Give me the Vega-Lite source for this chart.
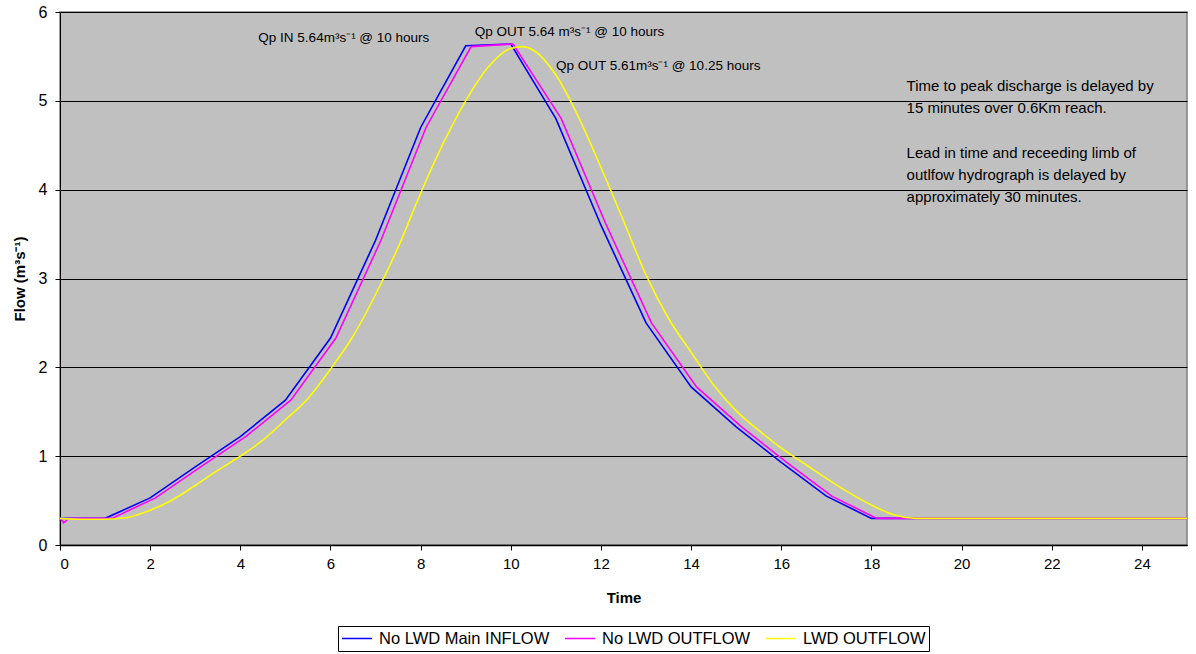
{
  "$schema": "https://vega.github.io/schema/vega-lite/v6.json",
  "width": 1127,
  "height": 533,
  "autosize": {"type": "none"},
  "padding": {"left": 60, "top": 12, "right": 9, "bottom": 109},
  "background": "white",
  "config": {
    "font": "Liberation Sans",
    "view": {"fill": "#C0C0C0", "stroke": "#808080", "strokeWidth": 1.5}
  },
  "datasets": {
    "flows": [
      {"series": "No LWD Main INFLOW", "time": 0, "flow": 0.3},
      {"series": "No LWD Main INFLOW", "time": 1, "flow": 0.3},
      {"series": "No LWD Main INFLOW", "time": 2, "flow": 0.53},
      {"series": "No LWD Main INFLOW", "time": 3, "flow": 0.88},
      {"series": "No LWD Main INFLOW", "time": 4, "flow": 1.22},
      {"series": "No LWD Main INFLOW", "time": 5, "flow": 1.63},
      {"series": "No LWD Main INFLOW", "time": 6, "flow": 2.33},
      {"series": "No LWD Main INFLOW", "time": 7, "flow": 3.43},
      {"series": "No LWD Main INFLOW", "time": 8, "flow": 4.7},
      {"series": "No LWD Main INFLOW", "time": 9, "flow": 5.62},
      {"series": "No LWD Main INFLOW", "time": 10, "flow": 5.64},
      {"series": "No LWD Main INFLOW", "time": 11, "flow": 4.8},
      {"series": "No LWD Main INFLOW", "time": 12, "flow": 3.6},
      {"series": "No LWD Main INFLOW", "time": 13, "flow": 2.5},
      {"series": "No LWD Main INFLOW", "time": 14, "flow": 1.78},
      {"series": "No LWD Main INFLOW", "time": 15, "flow": 1.33},
      {"series": "No LWD Main INFLOW", "time": 16, "flow": 0.93},
      {"series": "No LWD Main INFLOW", "time": 17, "flow": 0.55},
      {"series": "No LWD Main INFLOW", "time": 18, "flow": 0.3},
      {"series": "No LWD Main INFLOW", "time": 19, "flow": 0.3},
      {"series": "No LWD Main INFLOW", "time": 25, "flow": 0.3},
      {"series": "No LWD OUTFLOW", "time": 0, "flow": 0.3},
      {"series": "No LWD OUTFLOW", "time": 0.08, "flow": 0.25},
      {"series": "No LWD OUTFLOW", "time": 0.2, "flow": 0.3},
      {"series": "No LWD OUTFLOW", "time": 1.15, "flow": 0.3},
      {"series": "No LWD OUTFLOW", "time": 2.12, "flow": 0.53},
      {"series": "No LWD OUTFLOW", "time": 3.12, "flow": 0.88},
      {"series": "No LWD OUTFLOW", "time": 4.12, "flow": 1.22},
      {"series": "No LWD OUTFLOW", "time": 5.12, "flow": 1.63},
      {"series": "No LWD OUTFLOW", "time": 6.12, "flow": 2.33},
      {"series": "No LWD OUTFLOW", "time": 7.12, "flow": 3.43},
      {"series": "No LWD OUTFLOW", "time": 8.12, "flow": 4.7},
      {"series": "No LWD OUTFLOW", "time": 9.12, "flow": 5.61},
      {"series": "No LWD OUTFLOW", "time": 10.05, "flow": 5.64},
      {"series": "No LWD OUTFLOW", "time": 11.12, "flow": 4.8},
      {"series": "No LWD OUTFLOW", "time": 12.12, "flow": 3.6},
      {"series": "No LWD OUTFLOW", "time": 13.12, "flow": 2.5},
      {"series": "No LWD OUTFLOW", "time": 14.12, "flow": 1.78},
      {"series": "No LWD OUTFLOW", "time": 15.12, "flow": 1.33},
      {"series": "No LWD OUTFLOW", "time": 16.12, "flow": 0.93},
      {"series": "No LWD OUTFLOW", "time": 17.12, "flow": 0.55},
      {"series": "No LWD OUTFLOW", "time": 18.12, "flow": 0.3},
      {"series": "No LWD OUTFLOW", "time": 25, "flow": 0.3},
      {"series": "LWD OUTFLOW", "time": 0, "flow": 0.3},
      {"series": "LWD OUTFLOW", "time": 0.5, "flow": 0.29},
      {"series": "LWD OUTFLOW", "time": 1, "flow": 0.29},
      {"series": "LWD OUTFLOW", "time": 1.5, "flow": 0.31},
      {"series": "LWD OUTFLOW", "time": 2, "flow": 0.39},
      {"series": "LWD OUTFLOW", "time": 2.5, "flow": 0.51},
      {"series": "LWD OUTFLOW", "time": 3, "flow": 0.67},
      {"series": "LWD OUTFLOW", "time": 3.5, "flow": 0.84},
      {"series": "LWD OUTFLOW", "time": 4, "flow": 1.0},
      {"series": "LWD OUTFLOW", "time": 4.5, "flow": 1.18},
      {"series": "LWD OUTFLOW", "time": 5, "flow": 1.41},
      {"series": "LWD OUTFLOW", "time": 5.5, "flow": 1.65},
      {"series": "LWD OUTFLOW", "time": 6, "flow": 1.98},
      {"series": "LWD OUTFLOW", "time": 6.5, "flow": 2.35},
      {"series": "LWD OUTFLOW", "time": 7, "flow": 2.82},
      {"series": "LWD OUTFLOW", "time": 7.5, "flow": 3.35},
      {"series": "LWD OUTFLOW", "time": 8, "flow": 3.96},
      {"series": "LWD OUTFLOW", "time": 8.5, "flow": 4.52},
      {"series": "LWD OUTFLOW", "time": 9, "flow": 5.0},
      {"series": "LWD OUTFLOW", "time": 9.5, "flow": 5.38},
      {"series": "LWD OUTFLOW", "time": 10, "flow": 5.59},
      {"series": "LWD OUTFLOW", "time": 10.25, "flow": 5.61},
      {"series": "LWD OUTFLOW", "time": 10.5, "flow": 5.57},
      {"series": "LWD OUTFLOW", "time": 11, "flow": 5.29},
      {"series": "LWD OUTFLOW", "time": 11.5, "flow": 4.82},
      {"series": "LWD OUTFLOW", "time": 12, "flow": 4.25},
      {"series": "LWD OUTFLOW", "time": 12.5, "flow": 3.65},
      {"series": "LWD OUTFLOW", "time": 13, "flow": 3.04},
      {"series": "LWD OUTFLOW", "time": 13.5, "flow": 2.55},
      {"series": "LWD OUTFLOW", "time": 14, "flow": 2.17},
      {"series": "LWD OUTFLOW", "time": 14.5, "flow": 1.8},
      {"series": "LWD OUTFLOW", "time": 15, "flow": 1.51},
      {"series": "LWD OUTFLOW", "time": 15.5, "flow": 1.29},
      {"series": "LWD OUTFLOW", "time": 16, "flow": 1.09},
      {"series": "LWD OUTFLOW", "time": 16.5, "flow": 0.92},
      {"series": "LWD OUTFLOW", "time": 17, "flow": 0.75},
      {"series": "LWD OUTFLOW", "time": 17.5, "flow": 0.59},
      {"series": "LWD OUTFLOW", "time": 18, "flow": 0.45},
      {"series": "LWD OUTFLOW", "time": 18.5, "flow": 0.34},
      {"series": "LWD OUTFLOW", "time": 19, "flow": 0.3},
      {"series": "LWD OUTFLOW", "time": 25, "flow": 0.3}
    ],
    "labels": [
      {"time": 4.4, "flow": 5.71, "label": "Qp IN 5.64m³s⁻¹ @ 10 hours"},
      {"time": 9.2, "flow": 5.78, "label": "Qp OUT 5.64 m³s⁻¹ @ 10 hours"},
      {"time": 11.0, "flow": 5.39, "label": "Qp OUT 5.61m³s⁻¹ @ 10.25 hours"}
    ],
    "note": [
      {"time": 18.78, "flow": 5.25, "label": "Time to peak discharge is delayed by\n15 minutes over 0.6Km reach."},
      {"time": 18.78, "flow": 4.49, "label": "Lead in time and receeding limb of\noutlfow hydrograph is delayed by\napproximately 30 minutes."}
    ]
  },
  "layer": [
    {
      "data": {"name": "flows"},
      "transform": [{"filter": "datum.series !== 'LWD OUTFLOW'"}],
      "mark": {"type": "line", "strokeWidth": 1.6, "clip": true},
      "encoding": {
        "x": {
          "field": "time", "type": "quantitative",
          "scale": {"domain": [0, 25], "nice": false},
          "axis": {
            "title": "Time", "titleFontSize": 15, "titleFontWeight": "bold", "titleColor": "black", "titlePadding": 19,
            "values": [0, 2, 4, 6, 8, 10, 12, 14, 16, 18, 20, 22, 24],
            "grid": false, "domainColor": "black", "domainWidth": 1.5, "tickColor": "black", "tickSize": 5,
            "labelFontSize": 15, "labelColor": "black", "labelPadding": 6
          }
        },
        "y": {
          "field": "flow", "type": "quantitative",
          "scale": {"domain": [0, 6], "nice": false},
          "axis": {
            "title": "Flow (m³s⁻¹)", "titleFontSize": 15, "titleFontWeight": "bold", "titleColor": "black", "titlePadding": 11,
            "values": [0, 1, 2, 3, 4, 5, 6], "format": "d",
            "grid": true, "gridColor": "black", "gridWidth": 1, "gridOpacity": 1,
            "domainColor": "black", "domainWidth": 1, "tickColor": "black", "tickSize": 5,
            "labelFontSize": 16, "labelColor": "black", "labelPadding": 8
          }
        },
        "color": {
          "field": "series", "type": "nominal",
          "scale": {
            "domain": ["No LWD Main INFLOW", "No LWD OUTFLOW", "LWD OUTFLOW"],
            "range": ["#0000FF", "#FF00FF", "#FFFF00"]
          },
          "legend": {
            "title": null, "orient": "none", "direction": "horizontal",
            "legendX": 278, "legendY": 614,
            "symbolType": "stroke", "symbolSize": 900, "symbolStrokeWidth": 1.6,
            "clipHeight": 19,
            "labelFontSize": 16.5, "labelColor": "black", "labelLimit": 300, "labelOffset": 6,
            "columnPadding": 14, "padding": 3,
            "strokeColor": "black", "fillColor": "white"
          }
        },
        "detail": {"field": "series"}
      }
    },
    {
      "data": {"name": "flows"},
      "transform": [{"filter": "datum.series === 'LWD OUTFLOW'"}],
      "mark": {"type": "line", "strokeWidth": 1.6, "interpolate": "monotone", "clip": true},
      "encoding": {
        "x": {"field": "time", "type": "quantitative"},
        "y": {"field": "flow", "type": "quantitative"},
        "color": {"field": "series", "type": "nominal"}
      }
    },
    {
      "data": {"name": "labels"},
      "mark": {"type": "text", "align": "left", "baseline": "middle", "fontSize": 13.5, "color": "black"},
      "encoding": {
        "x": {"field": "time", "type": "quantitative"},
        "y": {"field": "flow", "type": "quantitative"},
        "text": {"field": "label"}
      }
    },
    {
      "data": {"name": "note"},
      "mark": {"type": "text", "align": "left", "baseline": "top", "fontSize": 15, "lineHeight": 22, "lineBreak": "\n", "color": "black"},
      "encoding": {
        "x": {"field": "time", "type": "quantitative"},
        "y": {"field": "flow", "type": "quantitative"},
        "text": {"field": "label"}
      }
    }
  ]
}
